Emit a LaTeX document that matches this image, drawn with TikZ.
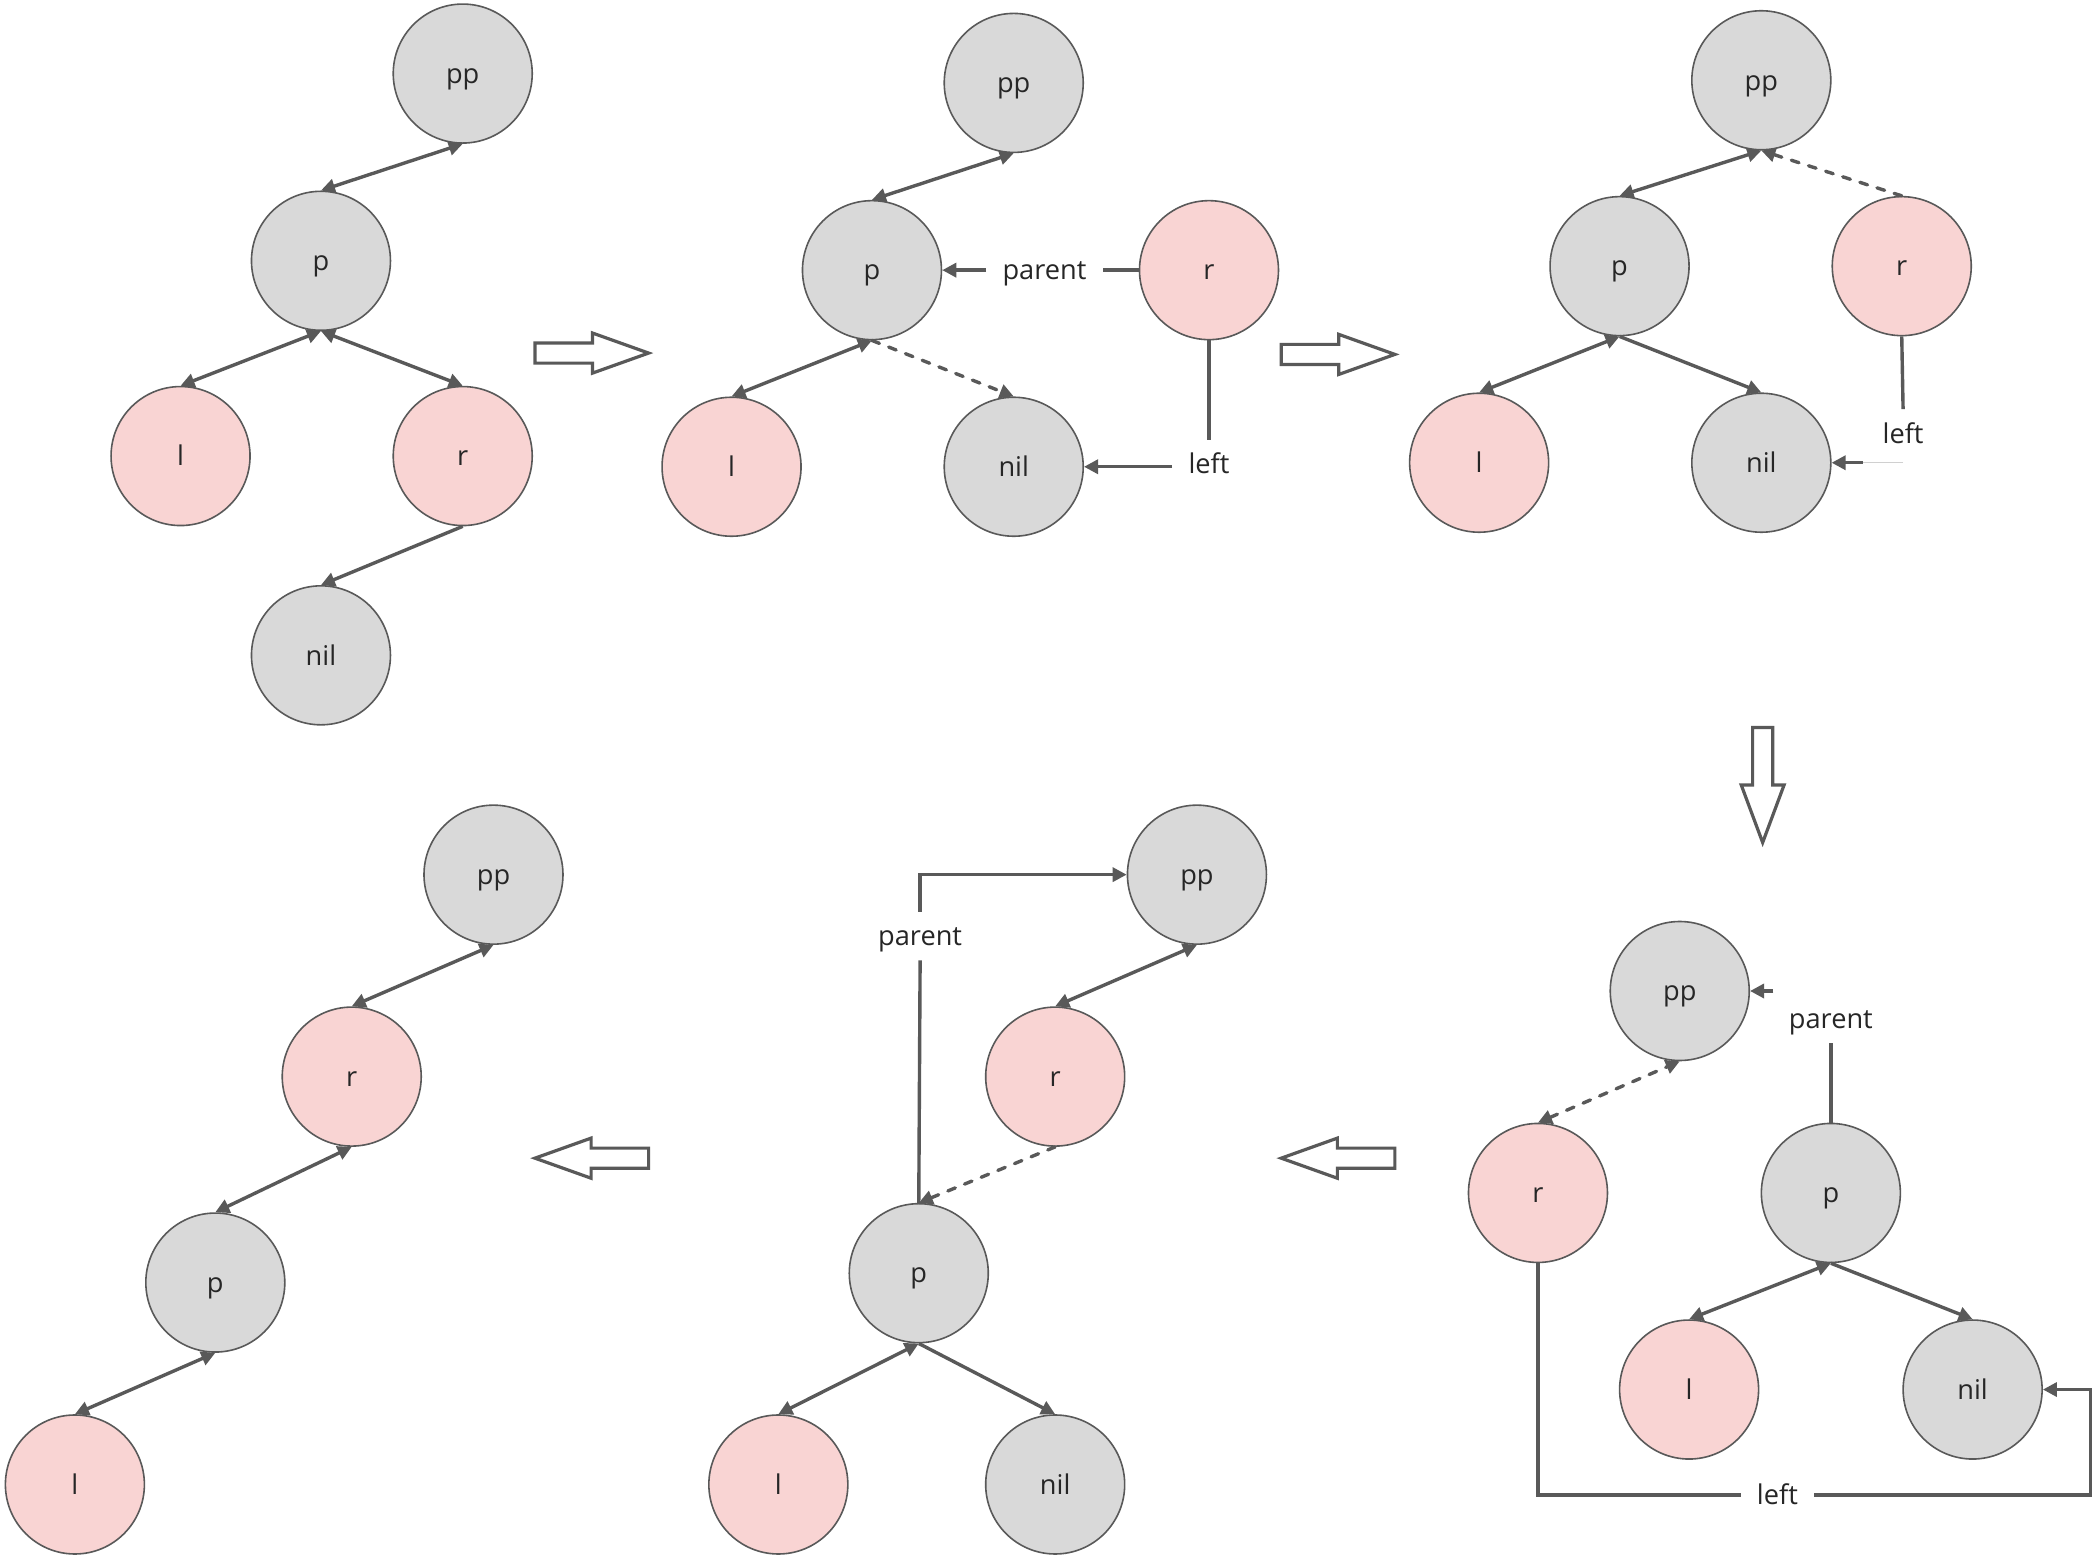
\documentclass[tikz,border=0pt]{standalone}
\usepackage{fontspec}
\setmainfont{Open Sans}
\usetikzlibrary{arrows.meta}
\definecolor{ecol}{HTML}{595959}
\definecolor{ngray}{HTML}{D9D9D9}
\definecolor{npink}{HTML}{F9D4D3}
\definecolor{tcol}{HTML}{262626}
\definecolor{thincol}{HTML}{D0D0D0}
\tikzset{
  txt/.style={font=\fontsize{13.6}{16}\selectfont, text=tcol, text height=9.8pt, text depth=0pt},
  gnode/.style={circle, draw=ecol, line width=0.8pt, fill=ngray, minimum size=69.5pt, inner sep=0pt, txt},
  rnode/.style={gnode, fill=npink},
  lbl/.style={txt, inner xsep=8pt, inner ysep=7pt},
  edge/.style={draw=ecol, line width=1.7pt},
  dashline/.style={draw=ecol, line width=1.7pt, dash pattern=on 4pt off 5pt, line cap=round},
  thinline/.style={draw=thincol, line width=0.5pt},
  tip/.style={-{Triangle[length=7pt,width=7pt]}},
  both/.style={{Triangle[length=7pt,width=7pt]}-{Triangle[length=7pt,width=7pt]}},
  hollow/.style={draw=ecol, line width=1.6pt, fill=white, line join=miter}
}
\begin{document}
\begin{tikzpicture}[x=0.6687pt, y=-0.6687pt]
\useasboundingbox (0,0) rectangle (1568,1167);

% ---------- Panel 1 ----------
\node[gnode] (a-pp) at (346,55) {pp};
\node[gnode] (a-p) at (240,195) {p};
\node[rnode] (a-l) at (135,341) {l};
\node[rnode] (a-r) at (346,341) {r};
\node[gnode] (a-nil) at (240,490) {nil};
\draw[edge,both] (a-p.north) -- (a-pp.south);
\draw[edge,both] (a-p.south) -- (a-l.north);
\draw[edge,both] (a-p.south) -- (a-r.north);
\draw[edge,tip] (a-r.south) -- (a-nil.north);

% ---------- hollow arrows ----------
\draw[hollow] (400,256.5) -- (443,256.5) -- (443,249) -- (485,264) -- (443,279) -- (443,271.5) -- (400,271.5) -- cycle;
\draw[hollow] (958,257.5) -- (1001,257.5) -- (1001,250) -- (1043,265) -- (1001,280) -- (1001,272.5) -- (958,272.5) -- cycle;
\draw[hollow] (1310.5,544) -- (1325.5,544) -- (1325.5,587) -- (1334,587) -- (1318,630) -- (1302,587) -- (1310.5,587) -- cycle;
\draw[hollow] (1043,858.5) -- (1000,858.5) -- (1000,851) -- (958,866) -- (1000,881) -- (1000,873.5) -- (1043,873.5) -- cycle;
\draw[hollow] (485,858.5) -- (442,858.5) -- (442,851) -- (400,866) -- (442,881) -- (442,873.5) -- (485,873.5) -- cycle;

% ---------- Panel 2 ----------
\node[gnode] (b-pp) at (758,62) {pp};
\node[gnode] (b-p) at (652,202) {p};
\node[rnode] (b-r) at (904,202) {r};
\node[rnode] (b-l) at (547,349) {l};
\node[gnode] (b-nil) at (758,349) {nil};
\draw[edge,both] (b-p.north) -- (b-pp.south);
\draw[edge,both] (b-p.south) -- (b-l.north);
\draw[dashline,tip] (b-p.south) -- (b-nil.north);
\node[lbl] (b-par) at (781,202) {parent};
\draw[edge] (b-r.west) -- (b-par.east);
\draw[edge,tip] (b-par.west) -- (b-p.east);
\node[lbl] (b-left) at (904,347) {left};
\draw[edge] (b-r.south) -- (b-left.north);
\draw[edge,tip] (b-left.west |- b-nil.east) -- (b-nil.east);

% ---------- Panel 3 ----------
\node[gnode] (c-pp) at (1317,60) {pp};
\node[gnode] (c-p) at (1211,199) {p};
\node[rnode] (c-r) at (1422,199) {r};
\node[rnode] (c-l) at (1106,346) {l};
\node[gnode] (c-nil) at (1317,346) {nil};
\draw[edge,both] (c-p.north) -- (c-pp.south);
\draw[edge,both] (c-p.south) -- (c-l.north);
\draw[edge,tip] (c-p.south) -- (c-nil.north);
\draw[dashline,tip] (c-r.north) -- (c-pp.south);
\node[lbl] (c-left) at (1423,324) {left};
\draw[edge] (c-r.south) -- (c-left.north);
\coordinate (c-lend) at (1423,346);
\coordinate (c-lmid) at (1393,346);
\draw[thinline] (c-lend) -- (c-lmid);
\draw[edge,tip] (c-lmid) -- (c-nil.east);

% ---------- Panel 4 ----------
\node[gnode] (d-pp) at (1256,741) {pp};
\node[rnode] (d-r) at (1150,892) {r};
\node[gnode] (d-p) at (1369,892) {p};
\node[rnode] (d-l) at (1263,1039) {l};
\node[gnode] (d-nil) at (1475,1039) {nil};
\draw[dashline,both] (d-r.north) -- (d-pp.south);
\draw[edge,both] (d-p.south) -- (d-l.north);
\draw[edge,tip] (d-p.south) -- (d-nil.north);
\node[lbl] (d-par) at (1369,762) {parent};
\draw[edge] (d-p.north) -- (d-par.south);
\coordinate (d-pa) at (1326,741);
\draw[edge,tip] (d-pa) -- (d-pp.east);
\node[lbl] (d-left) at (1329,1118) {left};
\coordinate (d-lc) at (1563,1039);
\draw[edge] (d-r.south) |- (d-left.west);
\draw[edge,tip] (d-left.east) -| (d-lc) -- (d-nil.east);

% ---------- Panel 5 ----------
\node[gnode] (e-pp) at (895,654) {pp};
\node[rnode] (e-r) at (789,805) {r};
\node[gnode] (e-p) at (687,952) {p};
\node[rnode] (e-l) at (582,1110) {l};
\node[gnode] (e-nil) at (789,1110) {nil};
\draw[edge,both] (e-r.north) -- (e-pp.south);
\draw[dashline,tip] (e-r.south) -- (e-p.north);
\node[lbl] (e-par) at (688,700) {parent};
\draw[edge] (e-p.north) -- (e-par.south);
\draw[edge,tip] (e-par.north) |- (e-pp.west);
\draw[edge,both] (e-p.south) -- (e-l.north);
\draw[edge,tip] (e-p.south) -- (e-nil.north);

% ---------- Panel 6 ----------
\node[gnode] (f-pp) at (369,654) {pp};
\node[rnode] (f-r) at (263,805) {r};
\node[gnode] (f-p) at (161,959) {p};
\node[rnode] (f-l) at (56,1110) {l};
\draw[edge,both] (f-r.north) -- (f-pp.south);
\draw[edge,both] (f-p.north) -- (f-r.south);
\draw[edge,both] (f-l.north) -- (f-p.south);
\end{tikzpicture}
\end{document}
